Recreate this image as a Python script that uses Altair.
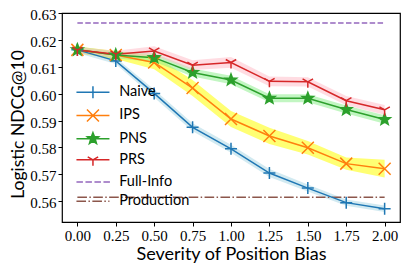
import math
import altair as alt
import pandas as pd

# ---- data ----
severity = [0.0, 0.25, 0.5, 0.75, 1.0, 1.25, 1.5, 1.75, 2.0]
series_names = ["Naive", "IPS", "PNS", "PRS"]
naive = [0.6163, 0.6122, 0.6001, 0.5875, 0.5795, 0.5705, 0.5649, 0.5595, 0.5572]
ips = [0.6163, 0.6144, 0.6116, 0.6021, 0.5906, 0.5843, 0.5799, 0.5740, 0.5721]
pns = [0.6163, 0.6144, 0.6134, 0.6079, 0.6051, 0.5983, 0.5983, 0.5941, 0.5904]
prs = [0.6162, 0.6147, 0.6159, 0.6106, 0.6116, 0.6046, 0.6044, 0.5974, 0.5940]
naive_err = [0.0012, 0.0012, 0.0015, 0.0015, 0.0015, 0.0015, 0.0013, 0.0012, 0.0012]
ips_err = [0.0012, 0.0015, 0.0025, 0.0030, 0.0030, 0.0030, 0.0025, 0.0023, 0.0033]
pns_err = [0.0012, 0.0013, 0.0015, 0.0015, 0.0016, 0.0015, 0.0015, 0.0015, 0.0016]
prs_err = [0.0012, 0.0013, 0.0017, 0.0018, 0.0020, 0.0018, 0.0017, 0.0017, 0.0018]
full_info = 0.6263
production = 0.5615
legend_labels = ["Naive", "IPS", "PNS", "PRS", "Full-Info", "Production"]

line_colors = ["#1f77b4", "#ff7f0e", "#2ca02c", "#d62728"]
band_colors = ["#add8e6", "#ffff00", "#90ee90", "#ffc0cb"]

rows = []
for name, vals, errs in zip(series_names, [naive, ips, pns, prs],
                            [naive_err, ips_err, pns_err, prs_err]):
    for x, v, e in zip(severity, vals, errs):
        rows.append({"x": x, "y": v, "lo": v - e, "hi": v + e, "series": name})
df = pd.DataFrame(rows)
ref_df = pd.DataFrame({"name": ["Full-Info", "Production"],
                       "y": [full_info, production],
                       "x0": [severity[0], severity[0]],
                       "x1": [severity[-1], severity[-1]]})

# ---- marker shapes ----
def star(r_out=1.0, r_in=0.42):
    pts = []
    for k in range(10):
        r = r_out if k % 2 == 0 else r_in
        a = math.radians(-90 + 36 * k)
        pts.append(f"{r*math.cos(a):.3f},{r*math.sin(a):.3f}")
    return "M" + "L".join(pts) + "Z"

PLUS = "M-1,0H1M0,-1V1"
XMARK = "M-1,-1L1,1M-1,1L1,-1"
TRI = "M0,0V1M0,0L-0.87,-0.5M0,0L0.87,-0.5"
STAR = star()
marker_paths = [PLUS, XMARK, STAR, TRI]

L = 2.75
LINE = f"M-{L},0H{L}"
dash = "".join(f"M{-L + i*1.5:.2f},0H{-L + i*1.5 + 1.08:.2f}" for i in range(4))
dashdot = (f"M{-L},0H{-L+1.6}M{-L+2.0},0H{-L+2.25}M{-L+2.65},0H{-L+4.25}"
           f"M{-L+4.65},0H{-L+4.9}M{-L+5.3},0H{L}")
legend_paths = [LINE + PLUS, LINE + XMARK, LINE + STAR, LINE + TRI, dash, dashdot]
legend_strokes = line_colors + ["#9467bd", "#8c564b"]
legend_fills = ["transparent", "transparent", "#2ca02c", "transparent", "transparent", "transparent"]

xscale = alt.Scale(domain=[-0.1, 2.1], nice=False, zero=False)
yscale = alt.Scale(domain=[0.5523, 0.63], nice=False, zero=False)
xaxis = alt.Axis(values=severity, format=".2f", title="Severity of Position Bias",
                 titleY=37.5, titleBaseline="alphabetic")
yaxis = alt.Axis(values=[0.56, 0.57, 0.58, 0.59, 0.60, 0.61, 0.62, 0.63], format=".2f",
                 title="Logistic NDCG@10", titleX=-39, titleY=111, titleBaseline="alphabetic",
                 titleFontSize=17.5, labelOffset=1.5)

X = alt.X("x:Q", scale=xscale, axis=xaxis)
Y = alt.Y("y:Q", scale=yscale, axis=yaxis)

base = alt.Chart(df)
bands = base.mark_area(opacity=0.55).encode(
    x=alt.X("x:Q", scale=xscale, axis=xaxis),
    y=alt.Y("lo:Q", scale=yscale, axis=yaxis),
    y2="hi:Q",
    color=alt.Color("series:N", scale=alt.Scale(domain=series_names, range=band_colors), legend=None),
)
lines = base.mark_line(strokeWidth=1.5).encode(
    x=X, y=Y,
    color=alt.Color("series:N", scale=alt.Scale(domain=series_names, range=line_colors), legend=None),
)
points = base.mark_point(size=144, strokeWidth=1.5, opacity=1).encode(
    x=X, y=Y,
    shape=alt.Shape("series:N", scale=alt.Scale(domain=series_names, range=marker_paths), legend=None),
    stroke=alt.Stroke("series:N", scale=alt.Scale(domain=series_names, range=line_colors), legend=None),
    fill=alt.Fill("series:N", scale=alt.Scale(domain=series_names,
                                              range=["transparent", "transparent", "#2ca02c", "transparent"]),
                  legend=None),
)
full_rule = alt.Chart(ref_df).transform_filter(alt.datum.name == "Full-Info").mark_rule(
    color="#9467bd", strokeWidth=1.5, strokeDash=[5.5, 2.4]).encode(
    x=alt.X("x0:Q", scale=xscale, axis=xaxis), x2="x1:Q", y=alt.Y("y:Q", scale=yscale, axis=yaxis))
prod_rule = alt.Chart(ref_df).transform_filter(alt.datum.name == "Production").mark_rule(
    color="#8c564b", strokeWidth=1.5, strokeDash=[9.6, 2.4, 1.5, 2.4]).encode(
    x=alt.X("x0:Q", scale=xscale, axis=xaxis), x2="x1:Q", y=alt.Y("y:Q", scale=yscale, axis=yaxis))

legend_df = pd.DataFrame({"label": legend_labels})
leg = alt.Legend(title=None, orient="none", legendX=23.7, legendY=72, padding=0,
                 symbolSize=144, symbolStrokeWidth=1.5, labelOffset=19, rowPadding=4.2,
                 labelFont="Lato", labelFontSize=14.5, labelColor="black", labelLimit=200)
legend_layer = alt.Chart(legend_df).transform_filter("false").mark_point(opacity=1, strokeWidth=1.5).encode(
    shape=alt.Shape("label:N", scale=alt.Scale(domain=legend_labels, range=legend_paths), legend=leg),
    stroke=alt.Stroke("label:N", scale=alt.Scale(domain=legend_labels, range=legend_strokes), legend=leg),
    fill=alt.Fill("label:N", scale=alt.Scale(domain=legend_labels, range=legend_fills), legend=leg),
)

chart = alt.layer(bands, full_rule, prod_rule, lines, points, legend_layer).resolve_scale(
    color="independent", shape="independent", stroke="independent", fill="independent"
).properties(
    width=338, height=209,
    autosize=alt.AutoSizeParams(type="none"),
    padding={"left": 54, "top": 5, "right": 3, "bottom": 42},
).configure_view(stroke="black", strokeWidth=1.2).configure_axis(
    grid=False, domain=False, ticks=True, tickSize=4, tickColor="black",
    labelFont="Liberation Serif", labelFontSize=15, labelColor="black", labelPadding=2,
    titleFont="Lato", titleFontSize=18, titleFontWeight="normal", titleColor="black",
)

chart.save("out.html", embed_options={"renderer": "svg", "actions": False})
